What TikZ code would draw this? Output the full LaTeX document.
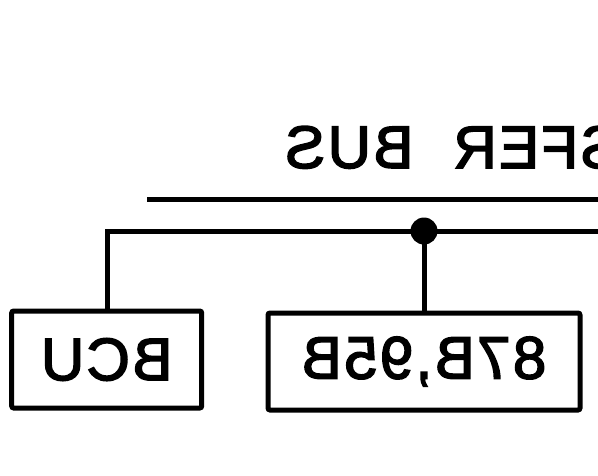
\documentclass[tikz,border=0pt]{standalone}
\usepackage{fontspec}
\newfontfamily\cadfont[FakeBold=2.6,LetterSpace=4]{Liberation Sans}
\usepackage{graphicx}

\begin{document}
\begin{tikzpicture}[x=1pt,y=-1pt,
	busline/.style={line width=5pt},
	relaybox/.style={draw,line width=5pt,rounded corners=2pt,inner sep=0pt,minimum height=97pt},
	cadtext/.style={font=\cadfont\fontsize{60}{62}\selectfont}]
		%%%%% START %%%%%
		\useasboundingbox (0,0) rectangle (598,475);
		
		\node[cadtext,anchor=base west,inner sep=0pt] (title) at (285,168) {\reflectbox{SFER\hspace{40pt}BUS}};
		
		\coordinate (topw) at (147,199);
		\coordinate (tope) at (605,199);
		\draw[busline] (topw) -- (tope);
		
		\node[relaybox,cadtext,minimum width=190pt] (bcu) at (106.7,359.5) {\reflectbox{BCU}};
		\node[relaybox,cadtext,minimum width=312pt] (relay) at (424,361.5) {\reflectbox{87B,95B}};
		
		\coordinate (busw) at (107,231);
		\coordinate (buse) at (605,231);
		\draw[busline] (bcu.north -| busw) -- (busw) -- (buse);
		
		\coordinate (tap) at (424,231);
		\fill (tap) circle (13.5);
		\draw[busline] (tap) -- (relay.north);
		%%%%% END %%%%%
\end{tikzpicture}
\end{document}
